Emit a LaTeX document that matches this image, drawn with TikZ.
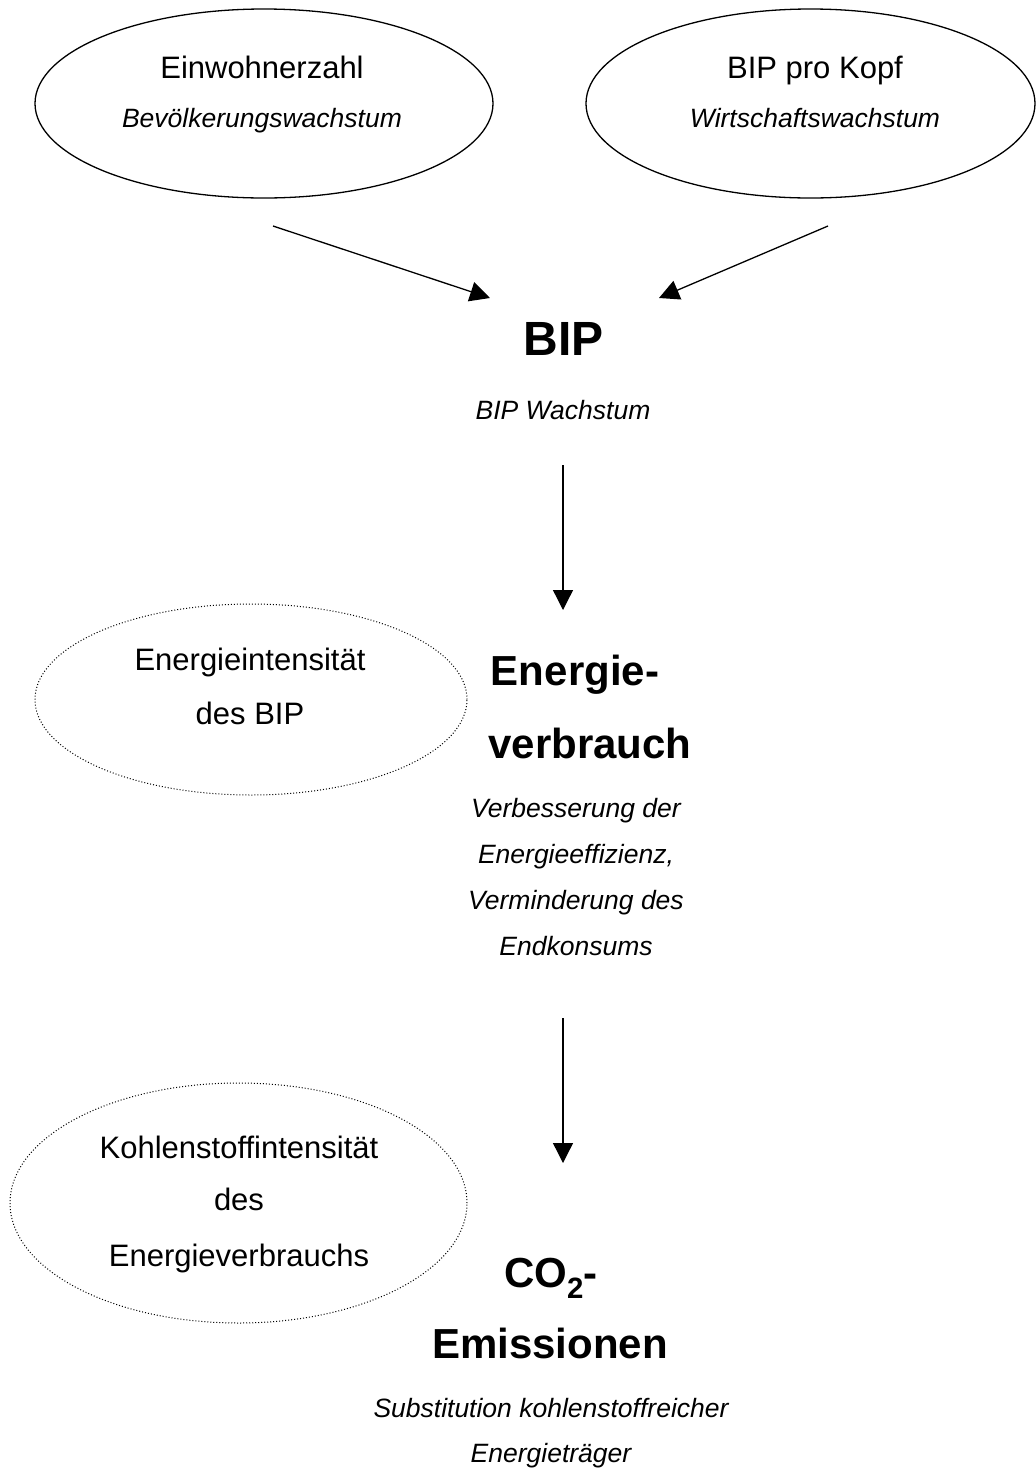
\documentclass[tikz,border=0pt]{standalone}
\usepackage{fontspec}
\setmainfont{Liberation Sans}
\usetikzlibrary{shapes.geometric,arrows.meta}
\begin{document}
\begin{tikzpicture}[x=1pt,y=-1pt,
  solidell/.style={draw,ellipse,line width=1.3pt,inner sep=0pt},
  dotell/.style={draw,ellipse,line width=1pt,dash pattern=on 1pt off 2pt,inner sep=0pt},
  reg/.style={anchor=base,inner sep=0pt,font=\fontsize{31}{31}\selectfont},
  ita/.style={anchor=base,inner sep=0pt,font=\fontsize{26.5}{26.5}\selectfont\itshape},
  bigb/.style={anchor=base,inner sep=0pt,font=\fontsize{42}{42}\selectfont\bfseries},
  arr/.style={line width=1.3pt,-{Triangle[length=20pt,width=20pt]}}]
\useasboundingbox (0,0) rectangle (1036,1468);
% ellipses
\node[solidell,minimum width=458pt,minimum height=189pt] (e1) at (264,103.5) {};
\node[solidell,minimum width=449pt,minimum height=189pt] (e2) at (810.5,103.5) {};
\node[dotell,minimum width=432pt,minimum height=191pt] (e3) at (251,699.5) {};
\node[dotell,minimum width=457pt,minimum height=240pt] (e4) at (238.5,1203) {};
% ellipse texts
\node[reg] (t1a) at (262,78) {Einwohnerzahl};
\node[ita] (t1b) at (262,127) {Bevölkerungswachstum};
\node[reg] (t2a) at (815,78) {BIP pro Kopf};
\node[ita] (t2b) at (815,127) {Wirtschaftswachstum};
\node[reg] (t3a) at (250,670) {Energieintensität};
\node[reg] (t3b) at (250,724) {des BIP};
\node[reg] (t4a) at (239,1158) {Kohlenstoffintensität};
\node[reg] (t4b) at (239,1210) {des};
\node[reg] (t4c) at (239,1266) {Energieverbrauchs};
% central column
\node[anchor=base,inner sep=0pt,font=\fontsize{48}{48}\selectfont\bfseries] (bip) at (564,355) {BIP};
\node[ita] (bipw) at (563,419) {BIP Wachstum};
\node[bigb] (ev1) at (575,685) {Energie-};
\node[bigb] (ev2) at (590,758) {verbrauch};
\node[ita] (ev3) at (576,817) {Verbesserung der};
\node[ita] (ev4) at (576,863) {Energieeffizienz,};
\node[ita] (ev5) at (576,909) {Verminderung des};
\node[ita] (ev6) at (576,955) {Endkonsums};
\node[bigb] (co1) at (551,1287) {CO\textsubscript{2}-};
\node[bigb] (co2) at (550,1358) {Emissionen};
\node[ita] (co3) at (551,1417) {Substitution kohlenstoffreicher};
\node[ita] (co4) at (551,1462) {Energieträger};
% arrows
\coordinate (a1s) at (273,226);
\coordinate (a1e) at (490,298);
\coordinate (a2s) at (828,226);
\coordinate (a2e) at (659,298);
\coordinate (a3s) at (563,465);
\coordinate (a3e) at (563,610);
\coordinate (a4s) at (563,1018);
\coordinate (a4e) at (563,1163);
\draw[arr] (a1s) -- (a1e);
\draw[arr] (a2s) -- (a2e);
\draw[arr] (a3s) -- (a3e);
\draw[arr] (a4s) -- (a4e);
\end{tikzpicture}
\end{document}
